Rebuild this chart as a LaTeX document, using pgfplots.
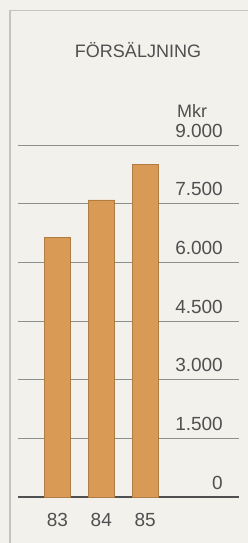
\documentclass[border=0pt]{standalone}
\usepackage{fontspec}
\setmainfont{Liberation Sans}
\usepackage{pgfplots}
\pgfplotsset{compat=1.18}
\definecolor{bg}{HTML}{F3F1EC}
\definecolor{barc}{HTML}{D99A55}
\definecolor{bare}{HTML}{B07C42}
\definecolor{txt}{HTML}{505050}
\definecolor{gridc}{HTML}{8E8E8C}
\definecolor{framec}{HTML}{C4C4C2}
\begin{document}
\begin{tikzpicture}[x=1pt,y=1pt]
\useasboundingbox (0,0) rectangle (248,543);
\fill[bg] (0,0) rectangle (248,543);
\draw[framec, line width=1.5pt] (10,0) -- (10,532.5) -- (248,532.5);
\node[anchor=base, font=\fontsize{18}{20}\selectfont, text=txt, inner sep=0pt] at (138,485) {FÖRSÄLJNING};
\node[anchor=base west, font=\fontsize{18}{20}\selectfont, text=txt, inner sep=0pt] at (177,425) {Mkr};
\begin{axis}[
  at={(18pt,46pt)}, anchor=south west, scale only axis,
  width=221pt, height=352pt,
  xmin=82.1, xmax=87.14, ymin=0, ymax=9000,
  axis x line=bottom, axis y line=right,
  y axis line style={draw=none},
  x axis line style={draw=txt, line width=2pt, -},
  major tick length=0pt,
  ytick={0,1500,3000,4500,6000,7500,9000},
  yticklabels={0,1.500,3.000,4.500,6.000,7.500,9.000},
  ymajorgrids, grid style={gridc, line width=0.8pt},
  yticklabel style={anchor=base east, inner sep=0pt, xshift=-16pt, yshift=8pt,
    font=\fontsize{19}{21}\selectfont, text=txt},
  xtick={83,84,85},
  xticklabels={83,84,85},
  xticklabel style={anchor=north, inner sep=0pt, yshift=-16pt,
    font=\fontsize{19}{21}\selectfont, text=txt},
]
\addplot[ybar, bar width=26pt, bar shift=0pt, fill=barc, draw=bare, line width=0.5pt]
  coordinates {(83,6630) (84,7600) (85,8500)};
\end{axis}
\end{tikzpicture}
\end{document}
